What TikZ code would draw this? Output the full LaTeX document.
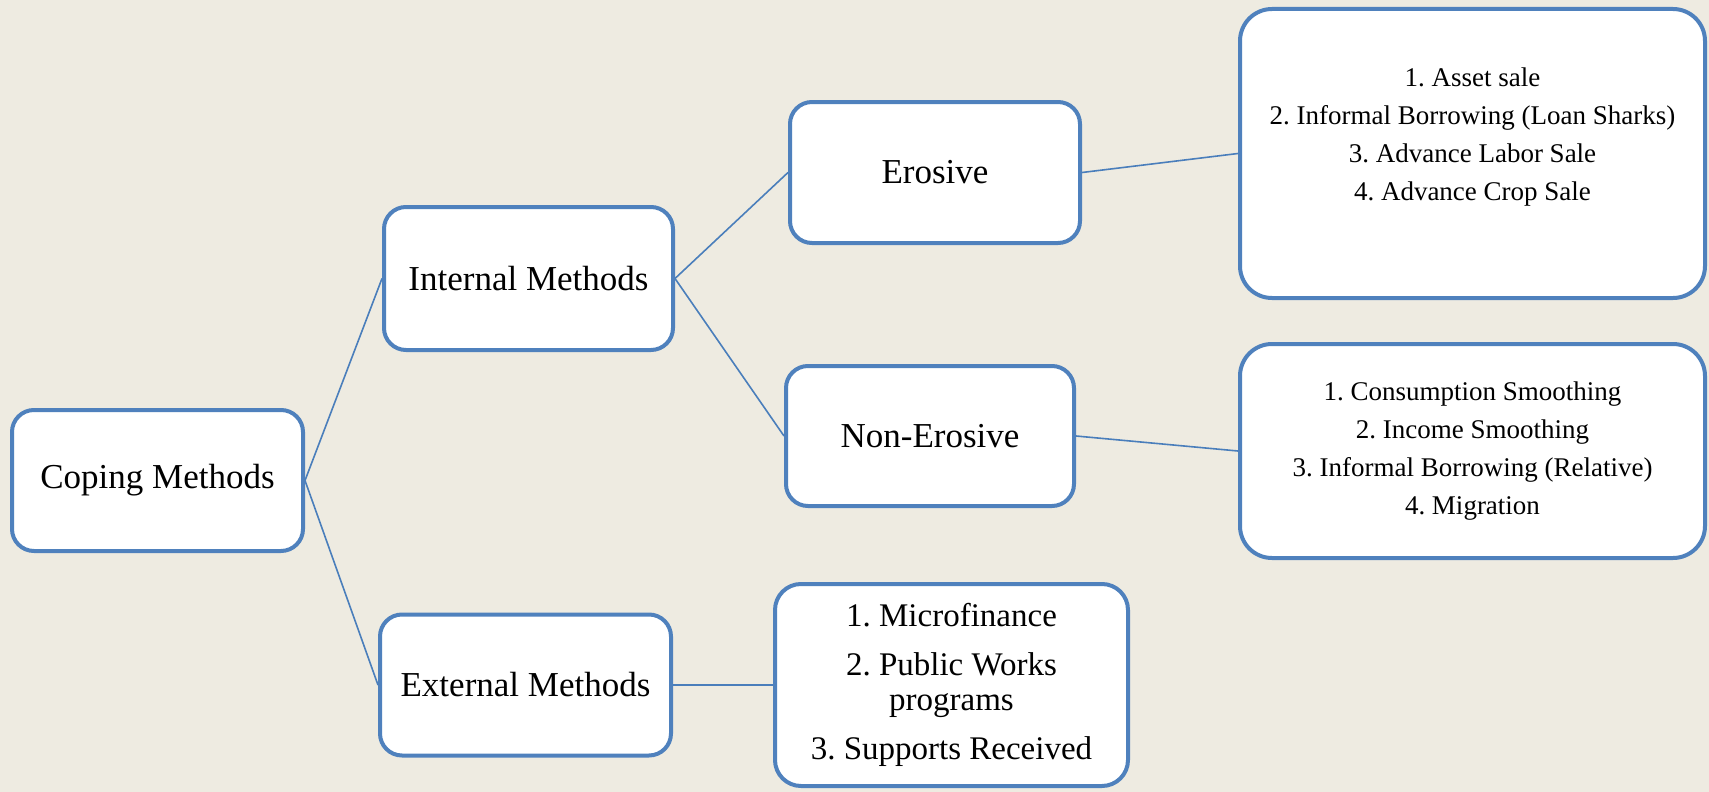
\documentclass[tikz,border=0pt]{standalone}
\usepackage{fontspec}
\setmainfont{Liberation Serif}
\frenchspacing
\definecolor{bgc}{HTML}{EEEBE1}
\definecolor{boxc}{HTML}{4F81BD}
\definecolor{linec}{HTML}{4A7EBB}
\tikzset{
  mainbox/.style={draw=boxc, fill=white, line width=4pt, rounded corners=22pt,
    minimum width=#1, minimum height=141pt, inner sep=0pt, align=center,
    font=\fontsize{35}{40}\selectfont},
  listbox/.style={draw=boxc, fill=white, line width=4pt, rounded corners=32pt,
    inner sep=0pt, align=center, font=\fontsize{27}{38}\selectfont},
  conn/.style={draw=linec, line width=1.6pt}
}
\begin{document}
\begin{tikzpicture}[x=1pt,y=-1pt]
\fill[bgc] (0,0) rectangle (1709,792);
\useasboundingbox (0,0) rectangle (1709,792);
\node[mainbox=291pt] (cope) at (157.5,480.5) {Coping Methods};
\node[mainbox=289pt, minimum height=143pt] (int) at (528.5,278.5) {Internal Methods};
\node[mainbox=291pt, minimum height=141pt] (ext) at (525.5,685) {External Methods};
\node[mainbox=290pt] (ero) at (935,172.5) {Erosive};
\node[mainbox=288pt, minimum height=140pt] (nero) at (930,436) {Non-Erosive};
\node[listbox, minimum width=465pt, minimum height=289pt] (erol) at (1472.5,153.5)
  {1. Asset sale\\ 2. Informal Borrowing (Loan Sharks)\\ 3. Advance Labor Sale\\ 4. Advance Crop Sale\\ ~};
\node[listbox, minimum width=465pt, minimum height=214pt] (nerol) at (1472.5,451)
  {1. Consumption Smoothing\\ 2. Income Smoothing\\ 3. Informal Borrowing (Relative)\\ 4. Migration};
\node[listbox, rounded corners=26pt, minimum width=353pt, minimum height=202pt,
  font=\fontsize{33}{35}\selectfont] (extl) at (951.5,685)
  {1. Microfinance\\[14pt] 2. Public Works\\ programs\\[14pt] 3. Supports Received};
\draw[conn] (cope.east) -- (int.west);
\draw[conn] (cope.east) -- (ext.west);
\draw[conn] (int.east) -- (ero.west);
\draw[conn] (int.east) -- (nero.west);
\draw[conn] (ero.east) -- (erol.west);
\draw[conn] (nero.east) -- (nerol.west);
\draw[conn] (ext.east) -- (extl.west);
\end{tikzpicture}
\end{document}
